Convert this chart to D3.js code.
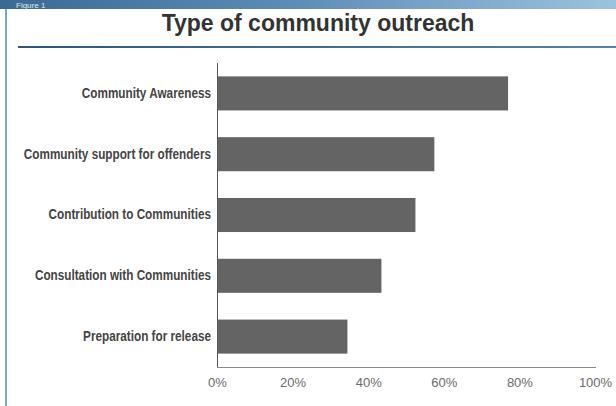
<!DOCTYPE html>
<html>
<head>
<meta charset="utf-8">
<script src="https://cdn.jsdelivr.net/npm/d3@7"></script>
<style>
html,body{margin:0;padding:0;background:#fff;}
svg{display:block;}
</style>
</head>
<body>
<svg id="chart" width="616" height="406"></svg>
<script>
const categories = [
  "Community Awareness",
  "Community support for offenders",
  "Contribution to Communities",
  "Consultation with Communities",
  "Preparation for release"
];
const values = [77, 57.5, 52.5, 43.5, 34.5];
const tickValues = [0, 20, 40, 60, 80, 100];
const title = "Type of community outreach";
const figureLabel = "Figure 1";

const svg = d3.select("#chart");
const W = 616, H = 406;

const defs = svg.append("defs");
const hg = defs.append("linearGradient").attr("id","hdr").attr("x1","0").attr("x2","1");
hg.append("stop").attr("offset","0").attr("stop-color","#3a6a93");
hg.append("stop").attr("offset","0.5").attr("stop-color","#5f8fb8");
hg.append("stop").attr("offset","1").attr("stop-color","#9cc3de");
const lg = defs.append("linearGradient").attr("id","rule").attr("x1","0").attr("x2","1");
lg.append("stop").attr("offset","0").attr("stop-color","#2d5680");
lg.append("stop").attr("offset","1").attr("stop-color","#4f86a8");

// header bar
svg.append("rect").attr("x",0).attr("y",0).attr("width",W).attr("height",9).attr("fill","url(#hdr)");
svg.append("text").attr("x",16).attr("y",7.5).attr("font-family","Liberation Sans, Arial, sans-serif")
  .attr("font-size",8).attr("fill","#dfe9f2").text(figureLabel);
// left border
svg.append("rect").attr("x",5).attr("y",9).attr("width",2).attr("height",H-9).attr("fill","#7ea6c8");

// title
svg.append("text").attr("x",318).attr("y",31).attr("text-anchor","middle")
  .attr("font-family","Liberation Sans, Arial, sans-serif").attr("font-weight","bold")
  .attr("font-size",23).attr("fill","#333").text(title);
svg.append("rect").attr("x",18).attr("y",46).attr("width",W-18).attr("height",2).attr("fill","url(#rule)");

const x = d3.scaleLinear().domain([0,100]).range([217,595]);
const y = d3.scaleBand().domain(categories).range([63,367]).paddingInner(0.44).paddingOuter(0.22);

// bars
svg.append("g").selectAll("rect").data(categories).join("rect")
  .attr("x", x(0))
  .attr("y", d => y(d))
  .attr("width", (d,i) => x(values[i]) - x(0))
  .attr("height", y.bandwidth())
  .attr("fill", "#646464");

// x axis
const xAxis = d3.axisBottom(x).tickValues(tickValues).tickSize(0).tickPadding(11).tickFormat(d => d + "%");
const gx = svg.append("g").attr("transform","translate(0,367)").call(xAxis);
gx.select(".domain").attr("stroke","#8a8a8a").attr("d","M217,0.5H596");
gx.selectAll("text").attr("font-family","Liberation Sans, Arial, sans-serif").attr("font-size",13).attr("fill","#6a6a6a");

// y axis
const sx = 0.84;
const yAxis = d3.axisLeft(y).tickSize(0).tickPadding(6);
const gy = svg.append("g").attr("transform","translate(217,0)").call(yAxis);
gy.select(".domain").attr("stroke","#555").attr("d","M0.5,63V367");
gy.selectAll("text")
  .attr("x", -6 / sx)
  .attr("transform", `scale(${sx},1)`)
  .attr("font-family","Liberation Sans, Arial, sans-serif")
  .attr("font-weight","bold").attr("font-size",14).attr("fill","#444");
</script>
</body>
</html>
